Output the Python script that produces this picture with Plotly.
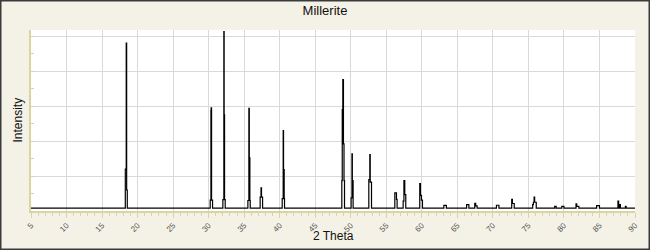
import plotly.graph_objects as go

# Step-profile pattern (hv): each point = start of a level
two_theta = [
    5.0,
    18.27, 18.40, 18.46, 18.55,
    30.22, 30.32, 30.35, 30.41, 30.55,
    32.00, 32.14, 32.18, 32.24, 32.33,
    35.52, 35.66, 35.72, 35.80, 35.85,
    37.25, 37.37, 37.44, 37.59,
    40.35, 40.49, 40.54, 40.63, 40.68,
    48.74, 48.80, 48.88, 48.97, 49.05, 49.12,
    50.05, 50.17, 50.22, 50.33,
    52.54, 52.68, 52.74, 52.92,
    56.20, 56.43, 56.52,
    57.37, 57.48, 57.60, 57.74,
    59.71, 59.81, 59.95, 60.09,
    63.10, 63.45,
    66.30, 66.62,
    67.45, 67.58, 67.78,
    70.50, 70.85,
    72.65, 72.75, 73.00,
    75.60, 75.70, 75.80, 75.88, 76.10,
    78.70, 78.90,
    79.70, 80.00,
    81.70, 81.80, 82.10,
    84.60, 85.00,
    87.60, 87.70, 87.85, 87.95,
    88.65, 88.75,
    90.0,
]
intensity = [
    1.6,
    24.0, 96.0, 12.0, 1.6,
    6.2, 57.4, 59.0, 6.2, 1.6,
    6.5, 102.5, 55.0, 6.5, 1.6,
    6.0, 58.6, 30.4, 6.0, 1.6,
    7.9, 13.3, 7.9, 1.6,
    7.1, 46.0, 23.7, 7.1, 1.6,
    17.4, 58.0, 75.1, 38.4, 17.4, 1.6,
    7.5, 32.7, 17.4, 1.6,
    18.0, 32.3, 16.5, 1.6,
    10.4, 6.6, 1.6,
    5.6, 17.4, 9.4, 1.6,
    15.7, 8.9, 6.2, 1.6,
    3.2, 1.6,
    3.7, 1.6,
    4.4, 2.9, 1.6,
    3.3, 1.6,
    6.6, 4.3, 1.6,
    3.7, 5.0, 7.9, 5.0, 1.6,
    2.7, 1.6,
    2.7, 1.6,
    4.1, 2.7, 1.6,
    3.1, 1.6,
    5.6, 1.6, 3.7, 1.6,
    2.6, 1.6,
    1.6,
]

x_tick_vals = list(range(5, 91, 5))
x_tick_text = [str(v) for v in x_tick_vals]

W, H = 650, 250
ML, MR, MT, MB = 31, 15, 30, 39
PW, PH = W - ML - MR, H - MT - MB

BG = "#f4f2e6"
AXC = "#dcd4a0"
GRID = "#d9d9d9"

fig = go.Figure()
fig.add_trace(go.Scatter(
    x=two_theta, y=intensity, mode="lines", line_shape="hv",
    line=dict(color="black", width=1.2), hoverinfo="skip", showlegend=False,
))

fig.update_layout(
    width=W, height=H,
    margin=dict(l=ML, r=MR, t=MT, b=MB, pad=0, autoexpand=False),
    paper_bgcolor=BG, plot_bgcolor="white",
    font=dict(family="Liberation Sans, Arial, sans-serif", color="#222"),
    title=dict(text="Millerite", x=0.5, xref="container", xanchor="center",
               y=1 - 10 / H, yref="container", yanchor="middle",
               font=dict(size=13, color="#111")),
    xaxis=dict(
        range=[5, 90], tickmode="array", tickvals=x_tick_vals, ticktext=x_tick_text,
        tickangle=-45, tickfont=dict(size=8, color="#555"),
        ticks="outside", ticklen=5, tickcolor=AXC, tickwidth=1,
        minor=dict(dtick=1, ticks="outside", ticklen=3, tickcolor=AXC, showgrid=False),
        showgrid=True, gridcolor=GRID, gridwidth=1,
        showline=True, linecolor=AXC, linewidth=1.5,
        zeroline=False, fixedrange=True, automargin=False,
    ),
    yaxis=dict(
        range=[0, PH / 1.75], dtick=20, tick0=0,
        showticklabels=False,
        ticks="inside", ticklen=3, tickcolor=AXC,
        minor=dict(dtick=10, ticks="inside", ticklen=3, tickcolor=AXC, showgrid=False),
        showgrid=True, gridcolor=GRID, gridwidth=1,
        showline=True, linecolor=AXC, linewidth=1.5,
        zeroline=False, fixedrange=True, automargin=False,
    ),
)

fig.add_annotation(text="2 Theta", xref="paper", yref="paper",
                   x=0.5, y=(H - MB - 236) / PH - 0, xanchor="center", yanchor="middle",
                   showarrow=False, font=dict(size=12, color="#111"))
fig.add_annotation(text="Intensity", xref="paper", yref="paper",
                   x=(17 - ML) / PW, y=0.5, xanchor="center", yanchor="middle",
                   textangle=-90, showarrow=False, font=dict(size=12, color="#111"))

# outer frame around the whole picture
fig.add_shape(
    type="rect", xref="paper", yref="paper",
    x0=(0.75 - ML) / PW, x1=(W - 0.75 - ML) / PW,
    y0=-(MB - 0.75) / PH, y1=(H - MB - 0.75) / PH,
    line=dict(color="#3a3a3a", width=1.5), fillcolor="rgba(0,0,0,0)", layer="above",
)

fig.write_html("out.html", config={"displayModeBar": False})
